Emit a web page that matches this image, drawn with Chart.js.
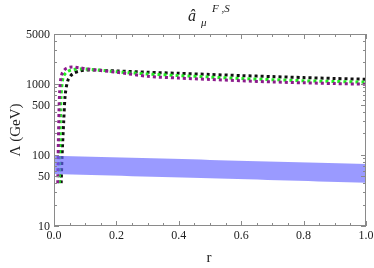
<!DOCTYPE html>
<html>
<head>
<meta charset="utf-8">
<script src="https://cdn.jsdelivr.net/npm/chart.js@4"></script>
<style>
  html, body { margin: 0; padding: 0; background: #fff; }
  #wrap { width: 374px; height: 268px; }
</style>
</head>
<body>
<div id="wrap"><canvas id="chart" width="374" height="268"></canvas></div>
<script>
// Curve data (r, Lambda in GeV).
var purpleR = [0.012, 0.014, 0.016, 0.018, 0.021, 0.025, 0.03, 0.04, 0.057, 0.08, 0.1, 0.15, 0.2, 0.3, 0.4, 0.5, 0.6, 0.7, 0.8, 0.9, 1.0];
var purpleL = [40, 150, 400, 750, 1100, 1350, 1500, 1650, 1720, 1680, 1630, 1530, 1450, 1270, 1200, 1150, 1100, 1060, 1030, 1005, 985];

var greenR = [0.017, 0.019, 0.021, 0.023, 0.026, 0.03, 0.04, 0.06, 0.093, 0.12, 0.15, 0.2, 0.3, 0.4, 0.5, 0.6, 0.7, 0.8, 0.9, 1.0];
var greenL = [40, 150, 400, 700, 1000, 1250, 1450, 1580, 1620, 1590, 1550, 1470, 1370, 1300, 1240, 1180, 1140, 1100, 1075, 1050];

var blackR = [0.023, 0.026, 0.031, 0.036, 0.045, 0.06, 0.08, 0.1, 0.12, 0.15, 0.2, 0.3, 0.4, 0.5, 0.6, 0.7, 0.8, 0.9, 1.0];
var blackL = [40, 100, 290, 700, 1130, 1380, 1500, 1550, 1560, 1545, 1515, 1450, 1400, 1350, 1300, 1260, 1220, 1185, 1155];

// Blue band edges.
var bandR = [0.0, 0.5, 1.0];
var bandTop = [97, 85, 74.5];
var bandBottom = [54, 47, 40.6];

// Axis ticks.
var xTicks = [0, 0.2, 0.4, 0.6, 0.8, 1.0];
var yTicks = [10, 50, 100, 500, 1000, 5000];
var yMinor = [20, 30, 40, 60, 70, 80, 90, 200, 300, 400, 600, 700, 800, 900, 2000, 3000, 4000];
var xMinor = [0.05, 0.1, 0.15, 0.25, 0.3, 0.35, 0.45, 0.5, 0.55, 0.65, 0.7, 0.75, 0.85, 0.9, 0.95];

function pts(xs, ys) {
    return xs.map(function (x, i) { return { x: x, y: ys[i] }; });
}

var serif = "'Liberation Serif', 'DejaVu Serif', serif";

// Frame, inward ticks, tick labels, title and axis labels.
var framePlugin = {
    id: "frame",
    afterDraw: function (chart) {
        var ctx = chart.ctx;
        var a = chart.chartArea;
        var xs = chart.scales.x, ys = chart.scales.y;
        ctx.save();
        ctx.strokeStyle = "#8a8a8a";
        ctx.lineWidth = 1;
        ctx.strokeRect(a.left + 0.5, a.top + 0.5, a.right - a.left - 1, a.bottom - a.top - 1);
        ctx.beginPath();
        function vt(v, len) {
            var p = Math.round(xs.getPixelForValue(v)) + 0.5;
            ctx.moveTo(p, a.bottom); ctx.lineTo(p, a.bottom - len);
            ctx.moveTo(p, a.top); ctx.lineTo(p, a.top + len);
        }
        function ht(v, len) {
            var p = Math.round(ys.getPixelForValue(v)) + 0.5;
            ctx.moveTo(a.left, p); ctx.lineTo(a.left + len, p);
            ctx.moveTo(a.right, p); ctx.lineTo(a.right - len, p);
        }
        xTicks.forEach(function (v) { vt(v, 5); });
        xMinor.forEach(function (v) { vt(v, 3); });
        yTicks.forEach(function (v) { ht(v, 5); });
        yMinor.forEach(function (v) { ht(v, 3); });
        ctx.stroke();

        ctx.fillStyle = "#222";
        ctx.font = "12px " + serif;
        ctx.textAlign = "right";
        ctx.textBaseline = "middle";
        yTicks.forEach(function (v) {
            ctx.fillText(String(v), a.left - 4, ys.getPixelForValue(v) + 1);
        });
        ctx.textAlign = "center";
        ctx.textBaseline = "top";
        xTicks.forEach(function (v) {
            ctx.fillText(v.toFixed(1), xs.getPixelForValue(v), a.bottom + 4);
        });

        ctx.textBaseline = "alphabetic";
        ctx.textAlign = "left";
        ctx.font = "italic 16px " + serif;
        ctx.fillText("\u00e2", 188, 21);
        ctx.font = "italic 11px " + serif;
        ctx.fillText("\u03bc", 201, 26);
        ctx.fillText("F ,S", 212, 12);

        ctx.font = "15px " + serif;
        ctx.textAlign = "center";
        ctx.fillText("r", 209, 262);
        ctx.translate(20, 130);
        ctx.rotate(-Math.PI / 2);
        ctx.fillText("\u039b (GeV)", 0, 0);
        ctx.restore();
    }
};

new Chart(document.getElementById("chart"), {
    type: "line",
    data: {
        datasets: [
            {
                data: pts(bandR, bandTop),
                borderWidth: 0,
                pointRadius: 0,
                backgroundColor: "rgba(100,100,255,0.65)",
                fill: "+1",
                tension: 0.3
            },
            {
                data: pts(bandR, bandBottom),
                borderWidth: 0,
                pointRadius: 0,
                fill: false,
                tension: 0.3
            },
            {
                data: pts(purpleR, purpleL),
                borderColor: "#8c1a8c",
                borderWidth: 3,
                borderDash: [3, 3],
                pointRadius: 0,
                fill: false,
                tension: 0.3
            },
            {
                data: pts(greenR, greenL),
                borderColor: "#22ee22",
                borderWidth: 3,
                borderDash: [3, 3],
                pointRadius: 0,
                fill: false,
                tension: 0.3
            },
            {
                data: pts(blackR, blackL),
                borderColor: "#111",
                borderWidth: 3,
                borderDash: [3, 3],
                pointRadius: 0,
                fill: false,
                tension: 0.3
            }
        ]
    },
    options: {
        responsive: false,
        animation: false,
        layout: { padding: { left: 54, right: 8, top: 34, bottom: 42 } },
        plugins: { legend: { display: false }, tooltip: { enabled: false } },
        scales: {
            x: {
                type: "linear",
                min: 0,
                max: 1,
                display: false
            },
            y: {
                type: "logarithmic",
                min: 10,
                max: 5000,
                display: false
            }
        }
    },
    plugins: [framePlugin]
});
</script>
</body>
</html>
